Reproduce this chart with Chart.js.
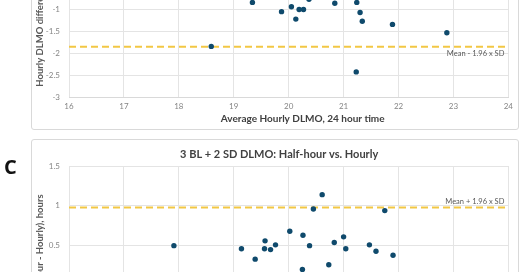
<!DOCTYPE html>
<html>
<head>
<meta charset="utf-8">
<script src="https://cdn.jsdelivr.net/npm/chart.js@4.4.1/dist/chart.umd.min.js"></script>
<style>
    html, body { margin: 0; padding: 0; background: #fff; width: 520px; height: 272px; overflow: hidden; }
    .panel { position: absolute; left: 31px; width: 486px; border: 1px solid #d9d9d9; border-radius: 3px; background: #fff; }
    .panel canvas { display: block; }
    #panel-b { top: -84px; height: 212px; }
    #panel-c { top: 139px; height: 273px; }
    #letter-c { position: absolute; left: 4px; top: 153px; font: bold 20px 'Open Sans', sans-serif; color: #111; }
</style>
</head>
<body>
<div class="panel" id="panel-b"><canvas id="chart-b" width="486" height="212"></canvas></div>
<div id="letter-c">C</div>
<div class="panel" id="panel-c"><canvas id="chart-c" width="486" height="273"></canvas></div>
<script>
// --- DATA ---
// panel B (only the lower part is visible)
const bAvg  = [18.59, 19.34, 19.87, 20.05, 20.13, 20.19, 20.27, 20.37, 20.84, 21.24, 21.30, 21.34, 21.89, 22.88, 21.23];
const bDiff = [-1.85, -0.85, -1.06, -0.95, -1.23, -1.01, -1.01, -0.78, -0.87, -0.85, -1.08, -1.28, -1.35, -1.54, -2.43];
const bLowerLimit = -1.86;

// panel C (only the upper part is visible)
const cAvg  = [17.91, 19.14, 19.39, 19.57, 19.56, 19.67, 19.76, 20.02, 20.26, 20.38, 20.25, 20.45, 20.61, 20.73, 20.83, 21.00, 21.04, 21.47, 21.59, 21.75, 21.90];
const cDiff = [0.50, 0.46, 0.33, 0.56, 0.46, 0.45, 0.51, 0.68, 0.63, 0.50, 0.20, 0.96, 1.14, 0.26, 0.54, 0.61, 0.46, 0.51, 0.43, 0.94, 0.38];
const cUpperLimit = 0.98;

const xTickRange = [16, 24];
const bYRange = [-3, 0.5];
const cYRange = [-1.2, 1.5];

const FONT = "Lato, sans-serif";
const pointColor = '#0f4a6c';
const limitColor = '#f2c744';
const gridColor = '#e4e4e4';
const tickColor = '#858585';

// chart title, limit label and x axis title (excel placed the titles a bit off-centre)
const notesPlugin = {
    id: 'notes',
    afterDraw(chart, args, opts) {
        const ctx = chart.ctx;
        const x = chart.scales.x, y = chart.scales.y;
        const area = chart.chartArea;
        const mid = (area.left + area.right) / 2;
        ctx.save();
        ctx.textBaseline = 'middle';

        ctx.font = `bold 11px ${FONT}`;
        ctx.fillStyle = '#404040';
        ctx.textAlign = 'center';
        ctx.fillText(opts.title, mid - 9.5, area.top - 12);

        ctx.font = `7.5px ${FONT}`;
        ctx.fillStyle = '#595959';
        ctx.textAlign = 'right';
        const ly = y.getPixelForValue(opts.limitValue) + (opts.below ? 7 : -6);
        ctx.fillText(opts.limitText, x.getPixelForValue(xTickRange[1]) - 4, ly);

        ctx.font = `bold 10px ${FONT}`;
        ctx.fillStyle = '#404040';
        ctx.textAlign = 'center';
        ctx.fillText(opts.xTitle, mid + 14, area.bottom + 22);
        ctx.restore();
    }
};

function makeChart(id, title, avg, diff, limit, yRange, yTitle, limitText, below, xTitle) {
    const pts = avg.map((v, i) => ({ x: v, y: diff[i] }));
    return new Chart(document.getElementById(id), {
        type: 'scatter',
        data: {
            datasets: [
                {
                    data: pts,
                    backgroundColor: pointColor,
                    borderWidth: 0,
                    pointRadius: 2.7,
                    order: 1,
                },
                {
                    type: 'line',
                    data: [{ x: xTickRange[0], y: limit }, { x: xTickRange[1], y: limit }],
                    borderColor: limitColor,
                    borderWidth: 2,
                    borderDash: [7, 4],
                    pointRadius: 0,
                    order: 2,
                },
            ],
        },
        options: {
            responsive: false,
            animation: false,
            layout: { padding: { left: 0, right: 9, top: 26, bottom: 0 } },
            plugins: {
                legend: { display: false },
                tooltip: { enabled: false },
                title: { display: false },
                notes: { title: title, limitValue: limit, limitText: limitText, below: below, xTitle: xTitle },
            },
            scales: {
                x: {
                    type: 'linear',
                    min: xTickRange[0],
                    max: xTickRange[1],
                    ticks: { stepSize: 1, color: tickColor, font: { family: FONT, size: 8 }, padding: 5 },
                    grid: { color: gridColor, drawTicks: false },
                    border: { color: '#d9d9d9' },
                    afterFit: (s) => { s.height = 32; },
                },
                y: {
                    min: yRange[0],
                    max: yRange[1],
                    ticks: {
                        stepSize: 0.5,
                        color: tickColor,
                        font: { family: FONT, size: 8 },
                        padding: 9,
                        callback: (v) => String(Math.round(v * 10) / 10),
                    },
                    grid: { color: gridColor, drawTicks: false },
                    border: { display: false },
                    title: {
                        display: true,
                        text: yTitle,
                        color: '#595959',
                        font: { family: FONT, size: 9.5, weight: 'bold' },
                        padding: { top: 2, bottom: 0 },
                    },
                    afterFit: (s) => { s.width = 37; },
                },
            },
        },
        plugins: [notesPlugin],
    });
}

makeChart('chart-b', '3 BL + 2 SD vs. 4 pg/mL: Hourly', bAvg, bDiff, bLowerLimit, bYRange,
    'Hourly DLMO difference, hours', 'Mean - 1.96 x SD', true, 'Average Hourly DLMO, 24 hour time');
makeChart('chart-c', '3 BL + 2 SD DLMO: Half-hour vs. Hourly', cAvg, cDiff, cUpperLimit, cYRange,
    'Difference (Half-hour - Hourly), hours', 'Mean + 1.96 x SD', false, 'Average DLMO, 24 hour time');
</script>
</body>
</html>
